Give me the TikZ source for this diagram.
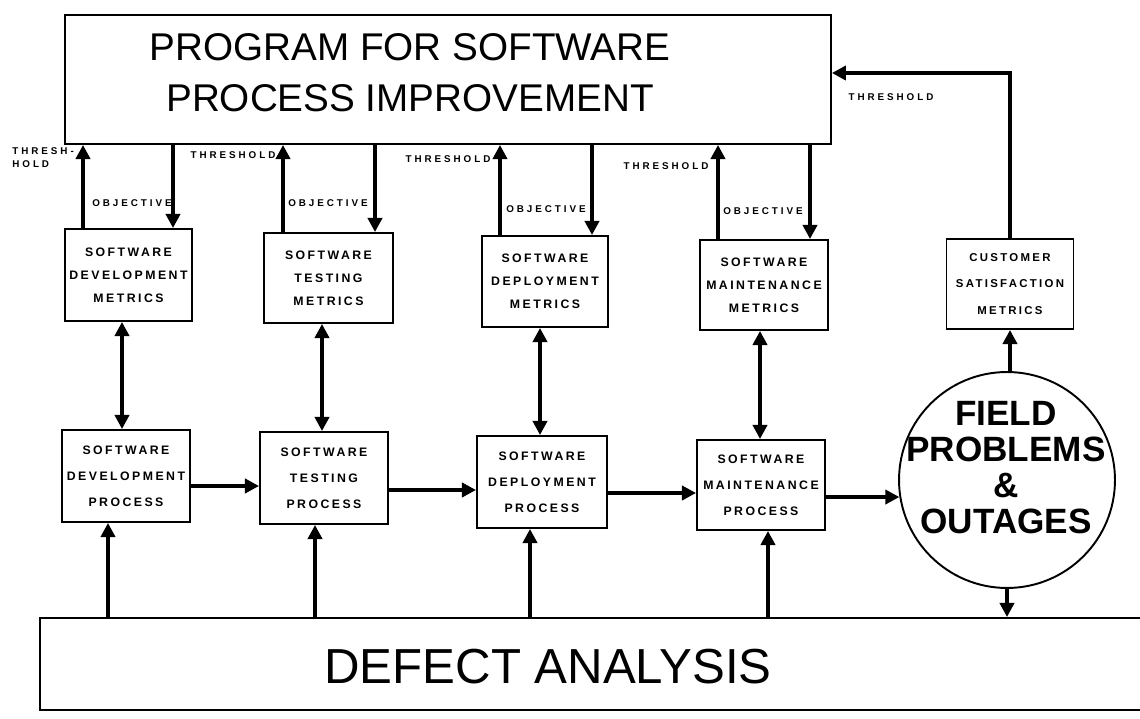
\documentclass[tikz,border=0pt]{standalone}
\usepackage{fontspec}
\setmainfont{Liberation Sans}
\newfontfamily\boxf[LetterSpace=20]{Liberation Sans}
\newfontfamily\tinyf[LetterSpace=30]{Liberation Sans}
\usetikzlibrary{arrows.meta,calc}
\tikzset{
  box/.style={draw,line width=1.1pt,inner sep=0pt,align=center,
    font=\boxf\bfseries\fontsize{7}{13}\selectfont},
  pbox/.style={box,font=\boxf\bfseries\fontsize{7}{14.8}\selectfont},
  lbl/.style={inner sep=0pt,font=\tinyf\bfseries\fontsize{5.6}{7.5}\selectfont},
  arr/.style={line width=2.6pt,-{Triangle[length=8pt,width=8pt]}},
  darr/.style={line width=2.6pt,{Triangle[length=8pt,width=8pt]}-{Triangle[length=8pt,width=8pt]}}
}
\begin{document}
\begin{tikzpicture}[x=0.02cm,y=-0.02cm]
\useasboundingbox (0,0) rectangle (1140,719);
% big boxes
\node[draw,line width=1.1pt,minimum width=15.32cm,minimum height=2.58cm] (top) at (448,79.5) {};
\node[align=center,font=\fontsize{22}{29}\selectfont] (ttl) at (410,73) {PROGRAM FOR SOFTWARE\\PROCESS IMPROVEMENT};
\node[draw,line width=1.1pt,minimum width=22.10cm,minimum height=1.84cm] (def) at (592.5,664) {};
\node[font=\fontsize{28}{32}\selectfont] (dtx) at (548,667) {DEFECT ANALYSIS};
% metrics
\node[box,minimum width=2.54cm,minimum height=1.84cm] (m1) at (128.5,275) {SOFTWARE\\DEVELOPMENT\\METRICS};
\node[box,minimum width=2.58cm,minimum height=1.80cm] (m2) at (328.5,278) {SOFTWARE\\TESTING\\METRICS};
\node[box,minimum width=2.52cm,minimum height=1.82cm] (m3) at (545,281.5) {SOFTWARE\\DEPLOYMENT\\METRICS};
\node[box,minimum width=2.56cm,minimum height=1.80cm] (m4) at (764,285) {SOFTWARE\\MAINTENANCE\\METRICS};
\node[box,minimum width=2.54cm,minimum height=1.80cm,font=\boxf\bfseries\fontsize{6.5}{15}\selectfont] (m5) at (1010,284) {CUSTOMER\\SATISFACTION\\METRICS};
% processes
\node[pbox,minimum width=2.56cm,minimum height=1.84cm] (p1) at (126,476) {SOFTWARE\\DEVELOPMENT\\PROCESS};
\node[pbox,minimum width=2.56cm,minimum height=1.84cm] (p2) at (324,478) {SOFTWARE\\TESTING\\PROCESS};
\node[pbox,minimum width=2.60cm,minimum height=1.84cm] (p3) at (542,482) {SOFTWARE\\DEPLOYMENT\\PROCESS};
\node[pbox,minimum width=2.56cm,minimum height=1.80cm] (p4) at (761,485) {SOFTWARE\\MAINTENANCE\\PROCESS};
% field problems
\node[draw,circle,line width=1.1pt,minimum size=4.32cm,inner sep=0pt] (fp) at (1007,480) {};
\node[align=center,font=\bfseries\fontsize{20}{20.5}\selectfont] (fpt) at (1006,468) {FIELD\\PROBLEMS\\\&\\OUTAGES};
% x positions
\coordinate (t1) at (83,0);  \coordinate (o1) at (173,0); \coordinate (d1) at (122,0); \coordinate (u1) at (108,0);
\coordinate (t2) at (283,0); \coordinate (o2) at (375,0); \coordinate (d2) at (322,0); \coordinate (u2) at (315,0);
\coordinate (t3) at (500,0); \coordinate (o3) at (592,0); \coordinate (d3) at (540,0); \coordinate (u3) at (530,0);
\coordinate (t4) at (718,0); \coordinate (o4) at (810,0); \coordinate (d4) at (760,0); \coordinate (u4) at (768,0);
\coordinate (h1) at (0,486); \coordinate (h2) at (0,490); \coordinate (h3) at (0,493);
\coordinate (c5) at (0,73);
% threshold / objective arrows
\foreach \i in {1,2,3,4}{
  \draw[arr] (m\i.north -| t\i) -- (top.south -| t\i);
  \draw[arr] (top.south -| o\i) -- (m\i.north -| o\i);
  \draw[darr] (m\i.south -| d\i) -- (p\i.north -| d\i);
  \draw[arr] (def.north -| u\i) -- (p\i.south -| u\i);
}
% process chain
\draw[arr] (p1.east |- h1) -- (p2.west |- h1);
\draw[arr] (p2.east |- h2) -- (p3.west |- h2);
\draw[arr] (p3.east |- h3) -- (p4.west |- h3);
\draw[arr] (p4.east |- fp.189) -- (fp.189);
% field problems links
\draw[arr] (fp.north -| m5.south) -- (m5.south);
\draw[arr] (fp.south) -- (fp.south |- def.north);
\draw[arr] (m5.north) |- (top.east |- c5);
% labels
\node[lbl,align=left,anchor=west] (lt1) at (12,158) {THRESH-\\HOLD};
\node[lbl] (lo1) at (132,203) {OBJECTIVE};
\node[lbl] (lt2) at (233,155) {THRESHOLD};
\node[lbl] (lo2) at (328,203) {OBJECTIVE};
\node[lbl] (lt3) at (448,159) {THRESHOLD};
\node[lbl] (lo3) at (546,209) {OBJECTIVE};
\node[lbl] (lt4) at (666,166) {THRESHOLD};
\node[lbl] (lo4) at (763,211) {OBJECTIVE};
\node[lbl] (lt5) at (891,97) {THRESHOLD};
\end{tikzpicture}
\end{document}
